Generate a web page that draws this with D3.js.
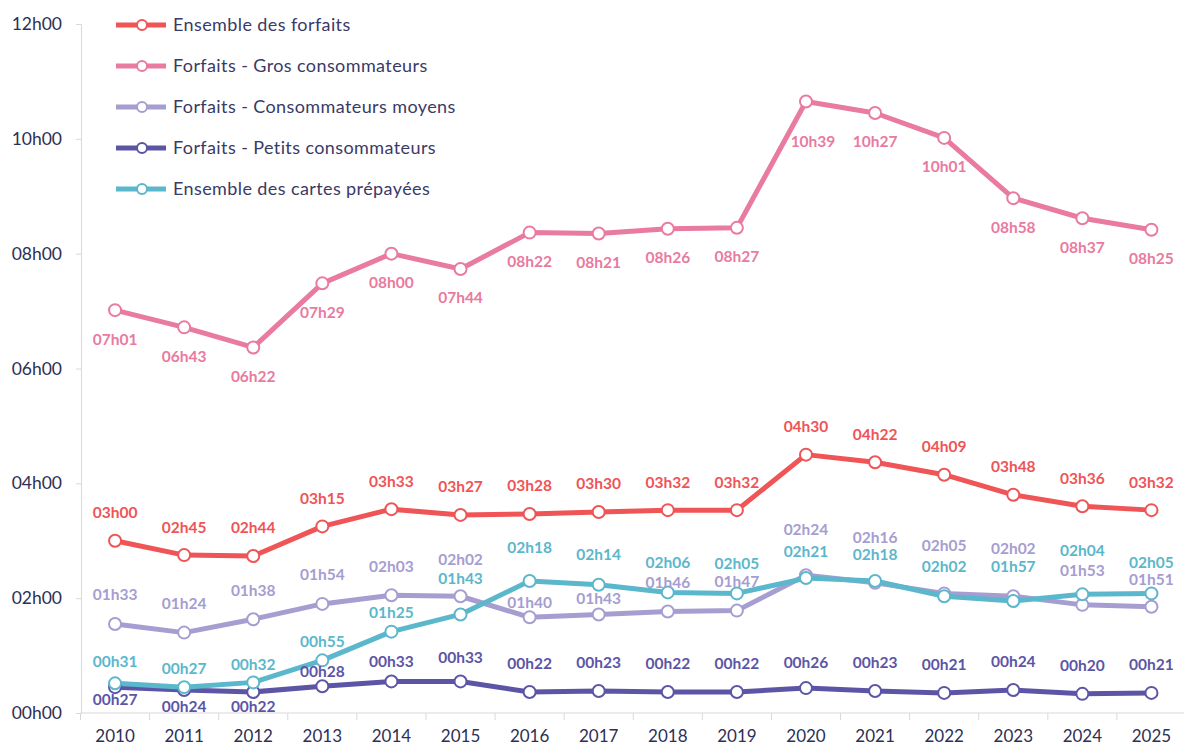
<!DOCTYPE html>
<html>
<head>
<meta charset="utf-8">
<script src="https://cdn.jsdelivr.net/npm/d3@7"></script>
<style>
  body { margin: 0; background: #fff; }
  svg { display: block; font-family: Lato, "Open Sans", sans-serif; }
</style>
</head>
<body>
<div id="chart"></div>
<script>
const years = ["2010","2011","2012","2013","2014","2015","2016","2017","2018","2019","2020","2021","2022","2023","2024","2025"];

const forfaits = ["03h00","02h45","02h44","03h15","03h33","03h27","03h28","03h30","03h32","03h32","04h30","04h22","04h09","03h48","03h36","03h32"];
const gros     = ["07h01","06h43","06h22","07h29","08h00","07h44","08h22","08h21","08h26","08h27","10h39","10h27","10h01","08h58","08h37","08h25"];
const moyens   = ["01h33","01h24","01h38","01h54","02h03","02h02","01h40","01h43","01h46","01h47","02h24","02h16","02h05","02h02","01h53","01h51"];
const petits   = ["00h27","00h24","00h22","00h28","00h33","00h33","00h22","00h23","00h22","00h22","00h26","00h23","00h21","00h24","00h20","00h21"];
const prepaid  = ["00h31","00h27","00h32","00h55","01h25","01h43","02h18","02h14","02h06","02h05","02h21","02h18","02h02","01h57","02h04","02h05"];

const yTicks = [0, 2, 4, 6, 8, 10, 12];

// Series: name, values, colour, default label offset
const series = [
  {name: "Ensemble des forfaits", values: forfaits, color: "#ef5456", dy: -28},
  {name: "Forfaits - Gros consommateurs", values: gros, color: "#e97aa0", dy: 29},
  {name: "Forfaits - Consommateurs moyens", values: moyens, color: "#a69dd1", dy: -29},
  {name: "Forfaits - Petits consommateurs", values: petits, color: "#5c55a6", dy: -28},
  {name: "Ensemble des cartes prépayées", values: prepaid, color: "#5bb7cc", dy: -30}
];

// Hand-placed label offsets (series index -> {year index: dy})
const labelShift = {
  1: {10: 40},
  2: {6: -15, 7: -16, 5: -37, 10: -46, 11: -45, 12: -48, 13: -48, 14: -34, 15: -27},
  3: {0: 12, 1: 17, 2: 15, 3: -15, 4: -20, 5: -24, 10: -26},
  4: {0: -22, 1: -19, 2: -18, 3: -19, 4: -19, 5: -36, 6: -33, 10: -26, 11: -26, 13: -34, 14: -44, 15: -31}
};

const toHours = s => +s.slice(0, 2) + (+s.slice(3, 5)) / 60;

const width = 1184;
const height = 747;

const svg = d3.select("#chart")
  .append("svg")
  .attr("width", width)
  .attr("height", height);

// Scales
const x = d3.scaleBand()
  .domain(years)
  .range([80.5, 1186]);

const y = d3.scaleLinear()
  .domain([0, 12])
  .range([713, 24]);

const cx = d => x(d) + x.bandwidth() / 2;

// Y axis
const yAxis = svg.append("g")
  .attr("transform", "translate(81,0)")
  .call(d3.axisLeft(y).tickValues(yTicks).tickSize(5).tickPadding(14)
    .tickFormat(d => String(d).padStart(2, "0") + "h00"));
yAxis.select(".domain").attr("stroke", "#d9d9d9");
yAxis.selectAll(".tick line").attr("stroke", "#d9d9d9");
yAxis.selectAll("text")
  .attr("fill", "#2d2f56")
  .attr("font-size", "17.5px")
  .attr("font-family", "Lato, sans-serif");

// X axis
const xAxis = svg.append("g")
  .attr("transform", "translate(0,713)")
  .call(d3.axisBottom(x).tickSize(0).tickPadding(17));
xAxis.select(".domain").attr("stroke", "#d9d9d9").attr("d", "M80.5,0H1186");
xAxis.selectAll("text")
  .attr("fill", "#2d2f56")
  .attr("font-size", "17px")
  .attr("font-family", "Lato, sans-serif");

// Category separators on the x axis
svg.append("g")
  .selectAll("line")
  .data(years)
  .join("line")
    .attr("x1", d => x(d))
    .attr("x2", d => x(d))
    .attr("y1", 713)
    .attr("y2", 720)
    .attr("stroke", "#d9d9d9");

// Lines
const line = d3.line()
  .x((d, i) => cx(years[i]))
  .y(d => y(toHours(d)));

series.forEach(s => {
  svg.append("path")
    .datum(s.values)
    .attr("fill", "none")
    .attr("stroke", s.color)
    .attr("stroke-width", 5)
    .attr("stroke-linejoin", "round")
    .attr("d", line);
});

// Markers
series.forEach(s => {
  svg.append("g")
    .selectAll("circle")
    .data(s.values)
    .join("circle")
      .attr("cx", (d, i) => cx(years[i]))
      .attr("cy", d => y(toHours(d)))
      .attr("r", 6)
      .attr("fill", "#fff")
      .attr("stroke", s.color)
      .attr("stroke-width", 2);
});

// Data labels
series.forEach((s, k) => {
  svg.append("g")
    .selectAll("text")
    .data(s.values)
    .join("text")
      .attr("x", (d, i) => cx(years[i]) + (k === 1 && i === 10 ? 7 : 0))
      .attr("y", (d, i) => y(toHours(d)) + ((labelShift[k] && labelShift[k][i] !== undefined) ? labelShift[k][i] : s.dy))
      .attr("dy", "0.35em")
      .attr("text-anchor", "middle")
      .attr("font-size", "15.5px")
      .attr("font-weight", "bold")
      .attr("fill", s.color)
      .text(d => d);
});

// Legend
const legend = svg.append("g");
series.forEach((s, i) => {
  const ly = 25 + i * 41;
  legend.append("line")
    .attr("x1", 116).attr("x2", 166)
    .attr("y1", ly).attr("y2", ly)
    .attr("stroke", s.color)
    .attr("stroke-width", 5);
  legend.append("circle")
    .attr("cx", 142).attr("cy", ly)
    .attr("r", 5)
    .attr("fill", "#fff")
    .attr("stroke", s.color)
    .attr("stroke-width", 2);
  legend.append("text")
    .attr("x", 173).attr("y", ly)
    .attr("dy", "0.35em")
    .attr("font-size", "18px")
    .attr("letter-spacing", "0.4px")
    .attr("fill", "#3a3a66")
    .text(s.name);
});
</script>
</body>
</html>
